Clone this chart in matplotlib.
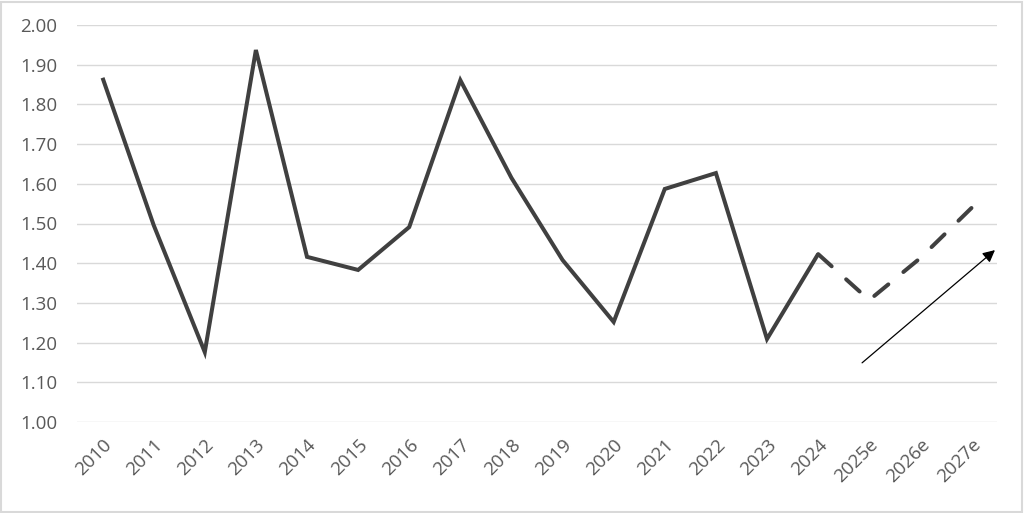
import matplotlib
matplotlib.use("Agg")
import matplotlib.pyplot as plt
from matplotlib.patches import Rectangle

years = ["2010", "2011", "2012", "2013", "2014", "2015", "2016", "2017", "2018",
         "2019", "2020", "2021", "2022", "2023", "2024", "2025e", "2026e", "2027e"]
values = [1.867, 1.496, 1.176, 1.937, 1.416, 1.383, 1.491, 1.861, 1.615,
          1.408, 1.252, 1.587, 1.627, 1.209, 1.423, 1.307, 1.413, 1.539]
n_actual = 15  # 2010..2024 solid, rest dashed
yticks = [1.00, 1.10, 1.20, 1.30, 1.40, 1.50, 1.60, 1.70, 1.80, 1.90, 2.00]
arrow_start = (14.86, 1.149)
arrow_end = (17.46, 1.433)

plt.rcParams['font.family'] = ['Open Sans', 'DejaVu Sans']

fig = plt.figure(figsize=(10.24, 5.13), dpi=100)
ax = fig.add_axes([77/1024, 1 - 422/513, 920/1024, 397/513])

x = list(range(len(years)))
line_color = "#404040"
ax.plot(x[:n_actual], values[:n_actual], color=line_color, lw=2.9,
        solid_joinstyle="miter", solid_capstyle="butt", zorder=3)
# draw the forecast part from the end backwards so a dash sits on the last point
fx = x[n_actual - 1:][::-1]
fy = values[n_actual - 1:][::-1]
ax.plot(fx, fy, color=line_color, lw=2.9,
        dashes=(4.5, 4.85), dash_capstyle="round", zorder=3)

ax.annotate("", xy=arrow_end, xytext=arrow_start,
            arrowprops=dict(arrowstyle="-|>", color="black", lw=0.9,
                            mutation_scale=18, shrinkA=0, shrinkB=0), zorder=4)

ax.set_xlim(-0.5, len(years) - 0.5)
ax.set_ylim(1.00, 2.00)
ax.set_yticks(yticks)
ax.set_yticklabels([f"{v:.2f}" for v in yticks])
ax.set_xticks(x)
ax.set_xticklabels(years, rotation=45, ha="right", rotation_mode="anchor")

ax.grid(axis="y", color="#d9d9d9", lw=1.0)
ax.set_axisbelow(True)
for s in ax.spines.values():
    s.set_visible(False)
ax.tick_params(axis="both", length=0, labelsize=13.5, colors="#595959")
ax.tick_params(axis="y", pad=14)
ax.tick_params(axis="x", pad=10)

fig.patches.append(Rectangle((0.001, 0.001), 0.997, 0.996, transform=fig.transFigure,
                             fill=False, edgecolor="#d9d9d9", lw=1.5))

fig.savefig("out.png", dpi=100, facecolor="white")
